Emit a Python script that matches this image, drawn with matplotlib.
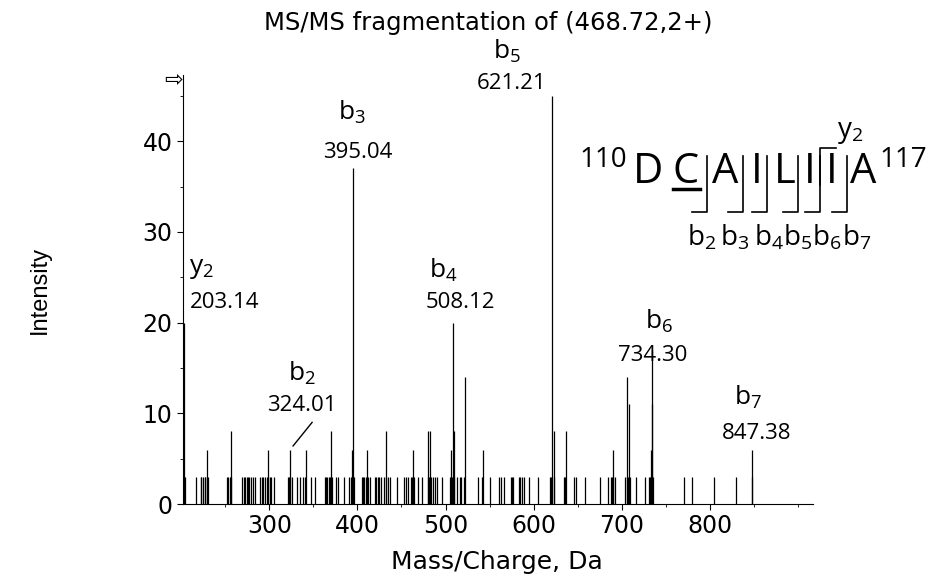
import matplotlib
matplotlib.use("Agg")
import matplotlib.pyplot as plt
from matplotlib.ticker import MultipleLocator
from matplotlib.lines import Line2D

# baseline noise peaks (intensity 3)
noise_mz = [200.5, 201, 202, 202.5, 203.5, 204.5, 216.5, 222, 223, 224.5, 226.5, 227.5, 229, 230.5,
            252, 253, 255, 256.5, 269, 271, 272.5, 274.5, 276, 277.5, 279, 281, 283.5,
            289.5, 291.5, 293, 295, 297.5, 299, 300.5, 302, 305.5,
            321, 322, 323, 325.5, 331, 334.5, 338, 341, 347.5, 352,
            363, 364.5, 366, 367.5, 369, 371.5, 376, 378, 384.5,
            391, 392.5, 394, 396, 405, 406.5, 408, 410, 412, 414.5, 419.5, 421.5, 423, 425, 427, 430,
            433, 435, 437.5, 444.5, 453, 455, 457.5, 461, 462.5, 464.5, 469, 473.5,
            480, 481.5, 483.5, 486, 488, 490, 496, 505, 507, 509.5, 513.5, 516, 518, 521.5,
            536.5, 541, 550, 561, 563.5, 566, 574, 575.5, 577, 583, 585, 587, 589, 595,
            604.5, 618.5, 620, 623, 634.5, 636, 646, 648.5, 658.5, 675.5, 684,
            687.5, 689, 690.5, 692, 704, 705.5, 707.5, 709, 716.5, 726,
            731, 732.5, 733.5, 735, 770.5, 779.5, 805, 829.5, 847.5]
noise_int = [3] * len(noise_mz)

# larger fragment peaks
peak_mz = [201.5, 203.14, 229.5, 257, 299, 324.01, 342, 369.5, 393.5, 395.04, 411, 433,
           463.5, 480.5, 482.5, 506, 508.12, 510, 522, 543, 621.21, 623, 637, 689.5,
           706.5, 708.2, 733, 734.30, 734.8, 847.38]
peak_int = [11, 20, 6, 8, 6, 6, 6, 8, 6, 37, 6, 8,
            6, 8, 8, 6, 20, 8, 14, 6, 45, 8, 8, 6,
            14, 11, 6, 17, 11, 6]

# labelled ions
ion_names = ["y_2", "b_2", "b_3", "b_4", "b_5", "b_6", "b_7"]
ion_mz = ["203.14", "324.01", "395.04", "508.12", "621.21", "734.30", "847.38"]

title = "MS/MS fragmentation of (468.72,2+)"
x_label = "Mass/Charge, Da"
y_label = "Intensity"

residues = ["D", "C", "A", "I", "L", "I", "I", "A"]
b_frag = ["b_2", "b_3", "b_4", "b_5", "b_6", "b_7"]

W, H = 931, 581
fig = plt.figure(figsize=(W / 100, H / 100), dpi=100)
ax = fig.add_axes([183 / W, 1 - 504 / H, (813 - 183) / W, (504 - 75) / H])


def px(x, y):
    return x / W, 1 - y / H


all_mz = noise_mz + peak_mz
all_int = noise_int + peak_int
ax.vlines(all_mz, 0, all_int, colors="black", linewidth=0.9)

ax.set_xlim(202.1, 917)
ax.set_ylim(0, 47.3)
for s in ["top", "right"]:
    ax.spines[s].set_visible(False)
ax.xaxis.set_major_locator(MultipleLocator(100))
ax.xaxis.set_minor_locator(MultipleLocator(50))
ax.yaxis.set_major_locator(MultipleLocator(10))
ax.yaxis.set_minor_locator(MultipleLocator(5))
ax.tick_params(which="major", length=4, labelsize=17)
ax.tick_params(which="minor", length=2.5)
ax.set_xticks([300, 400, 500, 600, 700, 800])

fig.text(*px(488, 23), title, fontsize=17.5, ha="center", va="center")
fig.text(*px(497, 562), x_label, fontsize=18, ha="center", va="center")
fig.text(*px(40, 290), y_label, fontsize=17, family="Liberation Sans", ha="center", va="center", rotation=90)
fig.text(*px(174, 79), "\u21e8", fontsize=16, ha="center", va="center")

# ion labels (positions in data coords)
ion_name_pos = [(222.7, 26.0), (337, 14.4), (394, 43.2), (497, 25.8), (569.7, 49.9), (742, 20.1), (843, 11.7)]
ion_num_pos = [(249.7, 22.2), (337, 10.9), (400.6, 38.8), (516.4, 22.2), (575.4, 46.4), (735.3, 16.4), (853, 7.8)]
lab_font = "Open Sans"
for name, num, p1, p2 in zip(ion_names, ion_mz, ion_name_pos, ion_num_pos):
    ax.text(p1[0], p1[1], "$\\mathregular{%s}$" % name, fontsize=19, family=lab_font,
            ha="center", va="center", clip_on=False)
    ax.text(p2[0], p2[1], num, fontsize=16, family=lab_font, ha="center", va="center", clip_on=False)
ax.plot([348.6, 327], [9.0, 6.4], color="black", linewidth=1)

# peptide sequence annotation
res_x = [648, 686, 725, 757, 785, 810, 832, 863]
for r, x in zip(residues, res_x):
    fig.text(*px(x, 172), r, fontsize=30, family=lab_font, ha="center", va="center")
fig.text(*px(627, 160), "110", fontsize=20, family=lab_font, ha="right", va="center")
fig.text(*px(879, 160), "117", fontsize=20, family=lab_font, ha="left", va="center")
fig.add_artist(Line2D([673 / W, 700 / W], [1 - 189 / H, 1 - 189 / H], color="black", linewidth=2.5))

br_x = [707, 743, 767, 798, 820, 847]
for x in br_x:
    fig.add_artist(Line2D([(x - 15) / W, x / W, x / W], [1 - 212 / H, 1 - 212 / H, 1 - 156 / H],
                          color="black", linewidth=1.2))
fig.add_artist(Line2D([820 / W, 820 / W, 836 / W], [1 - 185 / H, 1 - 148 / H, 1 - 148 / H],
                      color="black", linewidth=1.2))
fig.text(*px(850, 132), "$\\mathregular{y_2}$", fontsize=20, family=lab_font, ha="center", va="center")

b_x = [702, 735, 769, 798, 827, 857]
for b, x in zip(b_frag, b_x):
    fig.text(*px(x, 238), "$\\mathregular{%s}$" % b, fontsize=20, family=lab_font, ha="center", va="center")

fig.savefig("out.png", dpi=100)
